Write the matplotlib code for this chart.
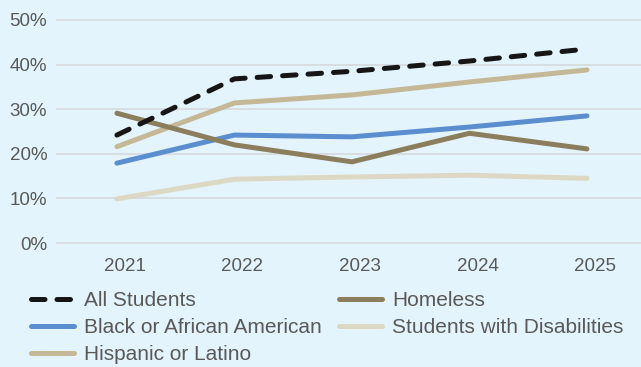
import matplotlib.pyplot as plt
import matplotlib.transforms as mtransforms
from matplotlib.ticker import FuncFormatter

plt.rcParams["font.family"] = ["Liberation Sans", "DejaVu Sans"]

# ---- datos ----
years = [2021, 2022, 2023, 2024, 2025]
all_students = [24.2, 36.8, 38.5, 40.8, 43.5]
black = [17.9, 24.2, 23.8, 26.0, 28.5]
hispanic = [21.6, 31.4, 33.2, 36.1, 38.8]
homeless = [29.1, 22.0, 18.2, 24.6, 21.1]
disabilities = [9.9, 14.3, 14.8, 15.2, 14.5]

BG = "#E3F4FC"
TXT = "#595959"

fig = plt.figure(figsize=(6.41, 3.67), dpi=100, facecolor=BG)
ax = fig.add_axes([57 / 641, 124 / 367, 1 - 57 / 641, 223 / 367])
ax.set_facecolor(BG)

lw = 3.6
ax.plot(years, all_students, color="#161616", lw=lw, ls=(0, (2.7, 2.4)),
        dash_capstyle="round", label="All Students", zorder=5)
ax.plot(years, black, color="#5B8ECF", lw=lw, solid_capstyle="round",
        label="Black or African American", zorder=3)
ax.plot(years, hispanic, color="#C4B896", lw=lw, solid_capstyle="round",
        label="Hispanic or Latino", zorder=3)
ax.plot(years, homeless, color="#8B7E5C", lw=lw, solid_capstyle="round",
        label="Homeless", zorder=4)
ax.plot(years, disabilities, color="#DDD8C4", lw=lw, solid_capstyle="round",
        label="Students with Disabilities", zorder=3)

ax.set_ylim(0, 50)
ax.set_xlim(2020.49, 2025.46)
ax.set_yticks([0, 10, 20, 30, 40, 50])
ax.set_xticks(years)
ax.yaxis.set_major_formatter(FuncFormatter(lambda v, p: f"{v:.0f}%"))
ax.grid(axis="y", color="#D6D9DC", lw=1.2, clip_on=False)
ax.set_axisbelow(True)
for s in ax.spines.values():
    s.set_visible(False)
ax.tick_params(axis="both", length=0, labelsize=13.5, labelcolor=TXT)
ax.tick_params(axis="y", pad=7)
ax.tick_params(axis="x", pad=11)

# las etiquetas del eje x están algo desplazadas a la derecha
shift = mtransforms.ScaledTranslation(8 / 100, 0, fig.dpi_scale_trans)
for lbl in ax.get_xticklabels():
    lbl.set_transform(lbl.get_transform() + shift)

leg = fig.legend(loc="upper left", bbox_to_anchor=(31 / 641, 1 - 291 / 367),
                 ncol=2, frameon=False, fontsize=15, handlelength=2.05,
                 handletextpad=0.48, columnspacing=0.85, labelspacing=0.38,
                 borderaxespad=0, borderpad=0)
for t in leg.get_texts():
    t.set_color(TXT)

fig.savefig("out.png", dpi=100, facecolor=BG)
